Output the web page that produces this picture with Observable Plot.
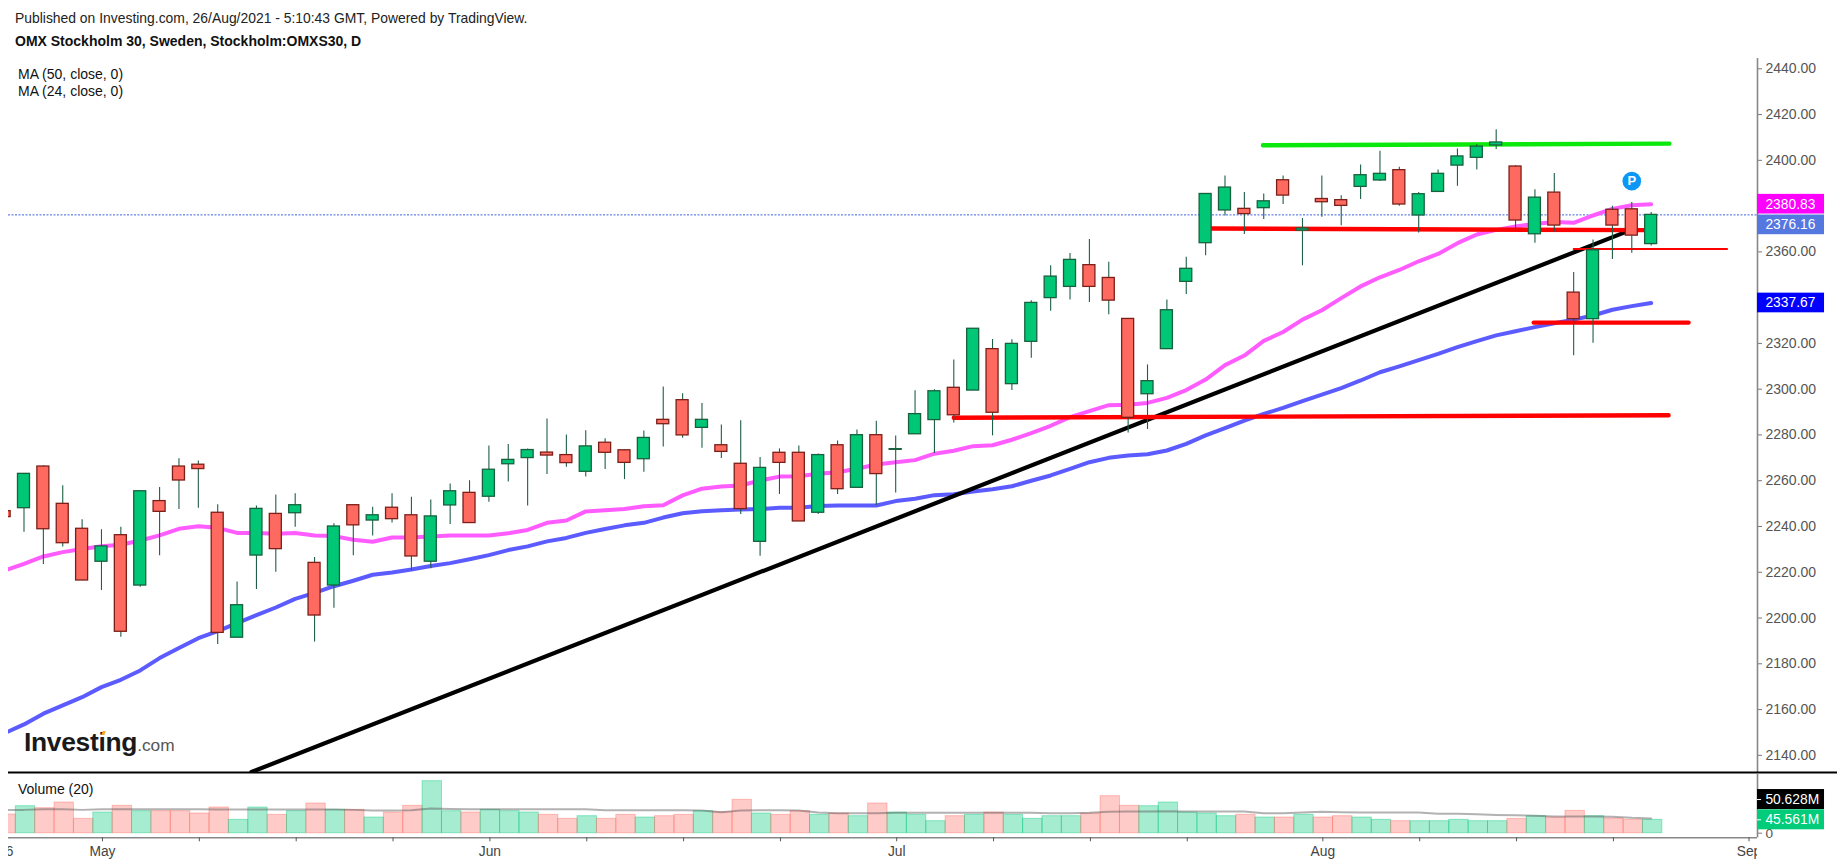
<!DOCTYPE html>
<html>
<head>
<meta charset="utf-8">
<script src="https://cdn.jsdelivr.net/npm/d3@7"></script>
<script src="https://cdn.jsdelivr.net/npm/@observablehq/plot@0.6"></script>
<style>
html,body{margin:0;padding:0;background:#fff;overflow:hidden}
#page{position:relative;width:1837px;height:866px;overflow:hidden;font-family:"Liberation Sans",Arial,sans-serif;color:#111}
.t{position:absolute;white-space:nowrap;font-size:14px;line-height:16px}
#p1,#p2{position:absolute;left:0}
#p1{top:0}#p2{top:773px}
.over{z-index:5}
</style>
</head>
<body>
<div id="page">
  <div id="p1"></div>
  <div id="p2"></div>
  <div class="t over" style="left:15px;top:10px;font-size:13.9px;color:#222">Published on Investing.com, 26/Aug/2021 - 5:10:43 GMT, Powered by TradingView.</div>
  <div class="t over" style="left:15px;top:33px;font-weight:bold;font-size:14px">OMX Stockholm 30, Sweden, Stockholm:OMXS30, D</div>
  <div class="t over" style="left:18px;top:66px">MA (50, close, 0)</div>
  <div class="t over" style="left:18px;top:83px">MA (24, close, 0)</div>
  <div class="t over" style="left:18px;top:781px">Volume (20)</div>
  <div class="t over" style="left:24px;top:727px;line-height:30px;font-size:26.4px;font-weight:bold;letter-spacing:-.3px;color:#1a1a1a">Investing<span style="font-size:17.3px;font-weight:normal;color:#555;letter-spacing:0">.com</span></div>
  <div class="over" style="position:absolute;left:102px;top:731px;width:3px;height:4px;background:#f5a623;transform:skewX(-20deg)"></div>
</div>
<script>
const firstIndex = -5;
const opens = [2246.7,2248.0,2266.2,2249.9,2239.0,2224.6,2236.2,2214.2,2251.1,2266.2,2267.0,2246.0,2191.4,2227.3,2245.5,2245.8,2224.1,2214.2,2249.3,2242.6,2248.2,2244.9,2224.6,2249.2,2254.7,2253.0,2267.2,2269.9,2272.3,2271.2,2263.9,2276.6,2273.3,2269.4,2286.6,2295.2,2283.1,2275.5,2267.4,2233.3,2272.2,2272.2,2246.0,2275.5,2256.9,2279.9,2273.5,2280.3,2286.5,2300.6,2299.4,2317.5,2302.2,2320.7,2339.8,2344.7,2354.2,2348.6,2330.7,2297.8,2317.5,2346.9,2363.8,2378.1,2378.8,2379.1,2391.3,2369.3,2383.1,2382.6,2388.4,2391.2,2395.7,2375.9,2386.2,2397.7,2401.1,2406.5,2397.3,2367.7,2385.9,2342.2,2330.6,2378.4,2378.6,2363.4];
const highs = [2247.0,2263.0,2266.5,2257.8,2242.9,2238.6,2239.7,2255.4,2257.0,2269.6,2268.6,2249.5,2215.7,2248.9,2253.8,2254.3,2226.5,2241.2,2249.5,2248.4,2254.3,2252.8,2251.6,2258.6,2260.0,2275.2,2275.8,2273.9,2287.0,2280.0,2281.8,2278.3,2273.6,2281.7,2300.9,2298.0,2293.7,2284.4,2286.2,2270.1,2273.9,2275.2,2271.7,2277.4,2282.2,2286.0,2279.5,2299.3,2299.7,2312.8,2326.4,2321.7,2321.6,2338.6,2353.9,2359.3,2365.4,2355.5,2330.8,2310.6,2339.0,2357.7,2385.3,2393.2,2385.9,2385.3,2393.2,2374.6,2393.2,2384.5,2398.0,2404.0,2397.0,2385.9,2395.8,2405.0,2406.9,2413.4,2397.6,2387.2,2394.2,2351.0,2365.2,2379.9,2381.6,2377.2];
const lows = [2244.0,2237.5,2223.4,2231.0,2216.4,2212.0,2191.6,2213.5,2227.2,2247.4,2248.0,2188.4,2191.4,2212.5,2220.0,2239.7,2189.5,2204.3,2227.2,2235.8,2241.5,2220.8,2221.5,2240.9,2241.5,2250.6,2259.4,2249.0,2262.7,2265.9,2261.6,2264.9,2260.5,2263.7,2274.7,2278.6,2274.2,2269.7,2245.2,2227.0,2254.0,2242.2,2245.2,2254.0,2256.9,2249.2,2254.6,2280.3,2271.9,2285.2,2299.4,2279.6,2299.4,2313.5,2334.1,2339.0,2337.9,2332.5,2280.8,2282.4,2317.5,2341.4,2358.3,2375.7,2367.6,2374.1,2380.7,2353.9,2375.1,2371.4,2382.9,2390.7,2379.9,2368.2,2386.2,2388.7,2395.8,2404.7,2369.3,2363.8,2368.6,2314.6,2320.1,2356.7,2359.4,2362.6];
const closes = [2244.1,2263.0,2238.8,2232.7,2216.4,2231.3,2194.0,2255.4,2246.4,2260.1,2265.1,2193.5,2205.6,2247.7,2230.1,2249.3,2201.1,2240.0,2240.5,2244.9,2243.2,2226.9,2244.4,2255.4,2241.5,2264.8,2269.1,2273.4,2271.0,2267.7,2275.0,2272.2,2267.8,2278.7,2284.7,2279.8,2286.6,2272.6,2247.6,2265.6,2267.8,2242.2,2271.2,2256.3,2279.9,2262.9,2273.8,2289.1,2299.1,2288.6,2326.4,2289.7,2319.8,2337.7,2349.2,2356.5,2344.7,2338.7,2287.5,2303.5,2334.5,2352.6,2385.3,2388.1,2376.5,2382.1,2384.6,2370.2,2381.7,2380.1,2393.5,2394.1,2380.7,2385.2,2394.1,2401.7,2406.0,2407.8,2373.7,2383.7,2371.5,2330.6,2360.7,2371.5,2367.1,2376.16];
const ma24 = [2220.8,2223.7,2226.9,2228.8,2230.2,2231.4,2232.0,2233.9,2236.1,2239.0,2240.1,2239.4,2237.2,2237.2,2236.8,2237.2,2236.1,2235.8,2234.2,2233.3,2235.2,2235.2,2235.6,2236.1,2236.1,2236.1,2237.0,2238.5,2241.6,2242.6,2246.6,2247.1,2247.6,2248.8,2249.3,2253.6,2256.5,2257.5,2257.9,2260.1,2261.8,2262.0,2263.0,2263.7,2265.2,2267.1,2268.1,2269.0,2271.8,2273.1,2275.1,2275.5,2277.9,2280.8,2284.0,2287.8,2290.4,2293.0,2293.2,2294.0,2296.2,2299.6,2304.2,2310.5,2314.7,2321.1,2325.0,2330.4,2334.5,2339.8,2344.9,2348.9,2352.1,2355.9,2359.1,2363.8,2367.6,2369.6,2371.1,2372.2,2373.1,2372.7,2375.9,2378.8,2380.4,2380.83];
const ma50 = [2149.7,2153.5,2158.2,2161.8,2165.4,2169.8,2173.0,2177.1,2182.5,2186.9,2191.2,2194.3,2197.8,2201.3,2204.6,2208.4,2211.0,2213.9,2216.3,2218.9,2219.9,2221.2,2222.7,2224.0,2225.7,2227.5,2229.7,2231.3,2233.5,2235.0,2237.2,2238.9,2240.5,2241.6,2243.9,2245.8,2246.7,2247.1,2247.4,2247.6,2248.2,2248.2,2249.0,2249.2,2249.2,2249.2,2251.1,2252.1,2253.7,2254.1,2255.3,2256.3,2257.6,2260.0,2262.3,2265.2,2268.1,2270.0,2271.0,2271.6,2273.2,2276.1,2279.8,2283.0,2286.3,2289.2,2291.8,2294.8,2297.6,2300.5,2303.8,2307.4,2310.0,2312.7,2315.4,2318.4,2321.0,2323.5,2325.3,2327.1,2328.8,2330.4,2332.2,2334.7,2336.3,2337.67];
const volumes = [63.8,92.3,85.4,104.8,49.0,70.6,93.4,75.2,75.2,75.2,67.2,87.7,45.6,87.7,62.6,75.2,101.4,79.7,79.7,53.5,70.6,93.4,177.7,75.2,70.6,79.7,75.2,70.6,62.6,49.0,58.1,49.0,62.6,53.5,58.1,62.6,75.2,71.8,113.9,67.2,62.6,75.2,62.6,67.2,58.1,101.4,70.6,62.6,41.0,58.1,62.6,70.6,62.6,49.0,58.1,58.1,67.2,126.4,93.4,92.3,104.8,70.6,67.2,58.1,62.6,53.5,53.5,62.6,53.5,58.1,53.5,45.6,41.0,41.0,41.0,45.6,41.0,41.0,49.0,58.1,53.5,76.3,58.1,50.1,45.6,45.561];
const volumeMa = [79.7,79.7,82,82,79.7,82,82,82,82,82,82,80.9,80.9,80.9,80.9,80.9,80.9,80.9,79.7,77.5,77.5,78.6,84.3,83.1,82,82,82,82,82,82,82,78.6,78.6,78.6,78.6,78.6,77.5,71.8,77.5,78.6,78.6,77.5,70.6,68.3,68.3,68.3,69.5,69.5,69.5,69.5,69.5,69.5,69.5,69.5,68.3,68.3,69.5,72.9,74,74,75.2,74,74,74,74,68.3,68.3,70.6,72.9,71.8,70.6,70.6,70.6,70.6,66.1,66.1,64.9,62.6,61.5,59.2,57,57,57,55.8,52.4,50.628];

const priceTicks = [2140,2160,2180,2200,2220,2240,2260,2280,2300,2320,2360,2400,2420,2440];
const timeTicks = [-5,0,5,10,15,20,25,30,35,41,46,51,56,63,68,73,78,85];
const timeLabelAt = [-5,0,20,41,63,85];
const timeLabels = ["26","May","Jun","Jul","Aug","Sep"];

const trendLine = [{i:7.74,p:2132.7},{i:78.6,p:2368.4}];
const levelLines = [
  {color:"#ff0000",w:4.4,a:{i:44,p:2287.5},b:{i:80.9,p:2288.6}},
  {color:"#ff0000",w:4.4,a:{i:57.3,p:2370.2},b:{i:79.7,p:2369.5}},
  {color:"#ff0000",w:2,a:{i:76,p:2361.3},b:{i:83.92,p:2361.3}},
  {color:"#ff0000",w:4.4,a:{i:73.94,p:2329.1},b:{i:81.93,p:2329.1}},
  {color:"#0be80b",w:4.4,a:{i:59.96,p:2406.6},b:{i:80.94,p:2407.3}}
];
const priceLabels = [
  {at:2380.83,text:"2380.83",bg:"#ff00ff"},
  {at:2371.8,text:"2376.16",bg:"#5577e0"},
  {at:2337.67,text:"2337.67",bg:"#0000ff"}
];
const volumeLabels = [
  {at:115,text:"50.628M",bg:"#000000"},
  {at:45.8,text:"45.561M",bg:"#00cc7a"}
];
const lastClose = 2376.16;
const pinPrice = 2390.9, pinIndex = 79;

const bars = opens.map((o,k)=>({i:firstIndex+k,o,h:highs[k],l:lows[k],c:closes[k],up:closes[k]>=o,v:volumes[k],a:ma24[k],b:ma50[k],vm:volumeMa[k]}));

const width = 1837, mL = 8, mR = 80;
const xDomain = [-4.8, 85.49];
const axisAt = xDomain[1];
const labelLeft = 85.9, boxRight = 88.95, wide = 92;
const font = {fontFamily:'"Liberation Sans",Arial,sans-serif',background:"transparent",overflow:"visible"};

const price = Plot.plot({
  width, height:773, marginLeft:mL, marginRight:mR, marginTop:58, marginBottom:1,
  style:font,
  x:{domain:xDomain, axis:null},
  y:{domain:[2132.5,2444.5]},
  marks:[
    Plot.axisY({anchor:"right",ticks:priceTicks,tickSize:4,tickPadding:4,tickFormat:d=>d.toFixed(2),fontSize:14,color:"#555",stroke:"#777",label:null}),
    Plot.ruleX([axisAt],{stroke:"#888",strokeWidth:1.6}),
    Plot.ruleY([lastClose],{x1:()=>xDomain[0],x2:()=>axisAt,stroke:"#3f62e0",strokeWidth:1,strokeDasharray:"2 1.5"}),
    Plot.line(bars,{x:"i",y:"a",stroke:"#ff5cff",strokeWidth:4,clip:true}),
    Plot.line(bars,{x:"i",y:"b",stroke:"#5b5bff",strokeWidth:4,clip:true}),
    Plot.line(trendLine,{x:"i",y:"p",stroke:"#000",strokeWidth:4.2,clip:true}),
    ...levelLines.map(L=>Plot.line([L.a,L.b],{x:"i",y:"p",stroke:L.color,strokeWidth:L.w})),
    Plot.ruleX(bars,{x:"i",y1:"l",y2:"h",stroke:"#1f5f45",strokeWidth:1.1,clip:true}),
    Plot.rect(bars,{x1:d=>d.i-.31,x2:d=>d.i+.31,y1:d=>Math.min(d.o,d.c),y2:d=>Math.max(d.o,d.c),
      fill:d=>d.up?"#00c775":"#ff6a60",stroke:d=>d.up?"#17613f":"#7c1f18",strokeWidth:1.3,clip:true}),
    Plot.dot([pinPrice],{x:()=>pinIndex,y:d=>d,r:9.3,fill:"#0a97f5"}),
    Plot.text([pinPrice],{x:()=>pinIndex,y:d=>d,text:()=>"P",fill:"#fff",fontSize:13,fontWeight:"bold"}),
    Plot.rect(priceLabels,{x1:()=>axisAt,x2:()=>boxRight,y1:d=>d.at-4.3,y2:d=>d.at+4.3,fill:"bg"}),
    Plot.text(priceLabels,{x:()=>labelLeft,y:"at",text:"text",fill:"#fff",textAnchor:"start",fontSize:13.8}),
    Plot.ruleY([2132.5],{x1:()=>xDomain[0],x2:()=>wide+10,stroke:"#000",strokeWidth:2})
  ]
});
document.getElementById("p1").append(price);

const volumePane = Plot.plot({
  width, height:93, marginLeft:mL, marginRight:mR, marginTop:0, marginBottom:0,
  style:font,
  x:{domain:xDomain, axis:null},
  y:{domain:[-113.8,204]},
  marks:[
    Plot.axisY({anchor:"right",ticks:[0],tickSize:4,tickPadding:4,fontSize:13.6,color:"#555",stroke:"#777",label:null}),
    Plot.ruleX([axisAt],{y1:()=>-15.7,y2:()=>204,stroke:"#888",strokeWidth:1.6}),
    Plot.rect(bars,{x1:d=>d.i-.5,x2:d=>d.i+.5,y1:()=>0,y2:"v",dx:1.5,
      fill:d=>d.up?"#00c97b":"#ff6a60",fillOpacity:.35,stroke:d=>d.up?"#00c97b":"#ff6a60",strokeOpacity:.4,strokeWidth:1,clip:true}),
    Plot.line(bars,{x:"i",y:"vm",stroke:"#555",strokeOpacity:.45,strokeWidth:2,clip:true}),
    Plot.ruleY([-15.7],{x1:()=>xDomain[0],x2:()=>axisAt,stroke:"#888",strokeWidth:1.6}),
    Plot.ruleX(timeTicks,{x:d=>d,y1:()=>-15.7,y2:()=>-29.4,stroke:"#555",dx:1,clip:true}),
    Plot.text(timeLabels,{x:(d,k)=>timeLabelAt[k],y:()=>-62.5,text:d=>d,fill:"#444",fontSize:13.8,dx:1,clip:true}),
    Plot.rect(volumeLabels,{x1:()=>axisAt,x2:()=>boxRight,y1:d=>d.at-34.2,y2:d=>d.at+34.2,fill:"bg"}),
    Plot.ruleY(volumeLabels,{y:"at",x1:()=>axisAt,x2:()=>axisAt+.21,stroke:"#fff"}),
    Plot.text(volumeLabels,{x:()=>labelLeft,y:"at",text:"text",fill:"#fff",textAnchor:"start",fontSize:13.8})
  ]
});
document.getElementById("p2").append(volumePane);
</script>
</body>
</html>
